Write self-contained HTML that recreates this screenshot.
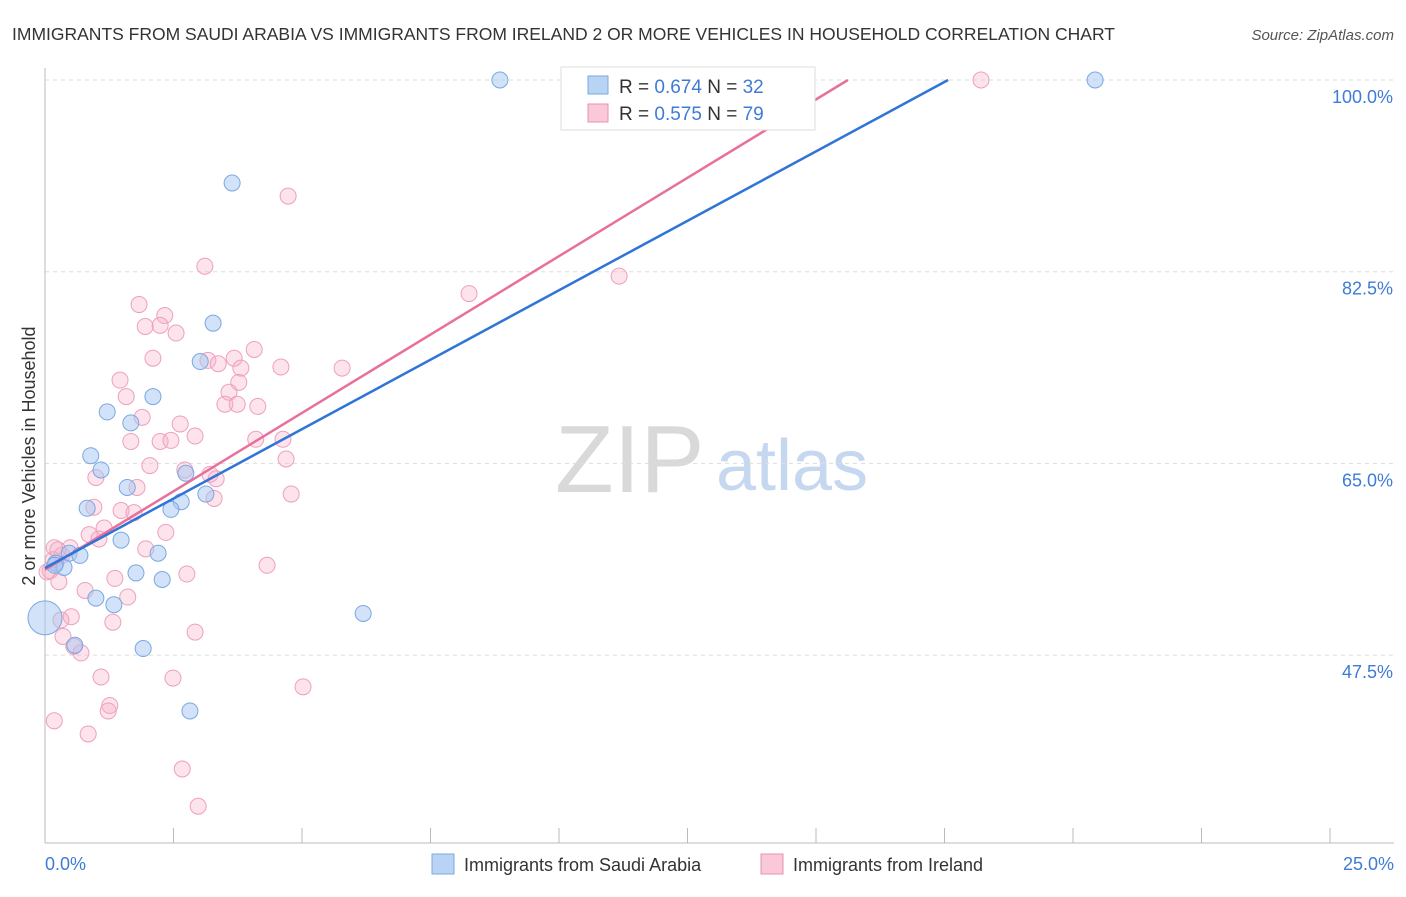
<!DOCTYPE html>
<html><head><meta charset="utf-8"><style>
body{margin:0;background:#fff;font-family:"Liberation Sans",sans-serif}
svg text{font-family:"Liberation Sans",sans-serif}
</style></head><body>
<svg id="chart" width="1406" height="892" viewBox="0 0 1406 892">
<text x="12" y="40" font-size="17.5" fill="#333">IMMIGRANTS FROM SAUDI ARABIA VS IMMIGRANTS FROM IRELAND 2 OR MORE VEHICLES IN HOUSEHOLD CORRELATION CHART</text>
<text x="1394" y="40" font-size="15" fill="#555" font-style="italic" text-anchor="end">Source: ZipAtlas.com</text>
<g>
<text x="555" y="492" font-size="96" fill="#d9d9d9" font-family="Liberation Serif,serif">ZIP</text>
<text x="716" y="490" font-size="72" fill="#c5d8f0">atlas</text>
</g>
<g id="grid"></g><g id="axes"></g><g id="marks"></g>
<text x="35" y="456" font-size="18" fill="#333" text-anchor="middle" transform="rotate(-90 35 456)">2 or more Vehicles in Household</text>
<text x="45" y="870" font-size="18" fill="#3f7bd6">0.0%</text>
<text x="1394" y="870" font-size="18" fill="#3f7bd6" text-anchor="end">25.0%</text>
<g>
<rect x="561" y="67" width="254" height="63" fill="#fff" stroke="#ddd"/>
<rect x="588" y="76" width="20" height="18" fill="#b9d3f5" stroke="#7aa8e0"/>
<text x="619" y="93" font-size="19" fill="#333">R = <tspan fill="#3f7bd6">0.674</tspan>   N = <tspan fill="#3f7bd6">32</tspan></text>
<rect x="588" y="104" width="20" height="18" fill="#f9c9d8" stroke="#ec8fb0"/>
<text x="619" y="120" font-size="19" fill="#333">R = <tspan fill="#3f7bd6">0.575</tspan>   N = <tspan fill="#3f7bd6">79</tspan></text>
</g>
<g>
<rect x="432" y="854" width="22" height="20" fill="#b9d3f5" stroke="#7aa8e0"/>
<text x="464" y="871" font-size="18" fill="#333">Immigrants from Saudi Arabia</text>
<rect x="761" y="854" width="22" height="20" fill="#f9c9d8" stroke="#ec8fb0"/>
<text x="793" y="871" font-size="18" fill="#333">Immigrants from Ireland</text>
</g>
</svg>
<script>
const yTicks=[100,82.5,65,47.5];
const xTicks=[0,2.5,5,7.5,10,12.5,15,17.5,20,22.5,25];
const saudiX=[8.85,20.43,3.64,3.27,3.02,2.10,1.21,1.67,0.89,1.09,2.74,1.60,3.13,2.65,0.82,2.45,1.48,0.47,0.68,2.20,0.21,0.37,1.77,2.28,0.99,1.34,6.19,0.58,1.91,2.82,0.19];
const saudiY=[100,100,90.6,77.8,74.3,71.1,69.7,68.7,65.7,64.4,64.1,62.8,62.2,61.5,60.9,60.8,58.0,56.8,56.6,56.8,55.9,55.5,55.0,54.4,52.7,52.1,51.3,48.4,48.1,42.4,55.7];
const saudiBig=[0,50.9];
const irelandX=[18.21,4.73,3.11,11.17,8.25,1.83,2.33,1.95,2.24,2.55,2.10,3.17,3.68,4.07,3.37,3.81,4.59,5.78,1.46,3.77,3.58,1.58,3.50,3.74,4.14,1.89,2.63,2.92,1.67,2.24,2.45,4.10,4.63,4.69,2.04,2.72,3.21,3.33,0.99,1.79,4.79,3.29,0.95,1.48,1.73,1.15,2.35,0.86,1.05,1.96,0.18,0.49,0.33,0.16,0.10,4.32,2.76,1.36,0.27,0.78,1.61,0.51,1.32,0.31,0.35,0.56,2.92,0.70,1.09,2.49,5.02,1.26,1.23,0.18,0.84,2.67,2.98,0.04,0.25];
const irelandY=[100,89.4,83.0,82.1,80.5,79.5,78.5,77.5,77.6,76.9,74.6,74.4,74.6,75.4,74.1,73.7,73.8,73.7,72.6,72.4,71.5,71.1,70.4,70.4,70.2,69.2,68.6,67.5,67.0,67.0,67.1,67.2,67.2,65.4,64.8,64.4,64.0,63.6,63.7,62.8,62.2,61.8,61.0,60.7,60.5,59.1,58.7,58.5,58.1,57.2,57.3,57.3,56.6,56.2,55.2,55.7,54.9,54.5,54.2,53.4,52.8,51.0,50.5,50.7,49.2,48.3,49.6,47.7,45.5,45.4,44.6,42.9,42.4,41.5,40.3,37.1,33.7,55.1,57.1];
const saudiTrend=[55.45,100];   // y at x=0, x where y=100
const irelandTrend=[55.3,100];
const saudiTrendEndX=17.57, irelandTrendEndX=15.62;
const sx=v=>45+v*51.4, sy=v=>80+(100-v)*10.954;
const NS='http://www.w3.org/2000/svg';
function mk(p,t,a){const e=document.createElementNS(NS,t);for(const k in a)e.setAttribute(k,a[k]);p.appendChild(e);return e;}
const grid=document.getElementById('grid'),axes=document.getElementById('axes'),marks=document.getElementById('marks');
yTicks.forEach(v=>{
 const l=mk(grid,'line',{x1:45,x2:1394,y1:sy(v),y2:sy(v),stroke:'#ddd','stroke-dasharray':'4 4'});
 
 
 const t=mk(grid,'text',{x:1393,y:sy(v)+23,'font-size':18,fill:'#3f7bd6','text-anchor':'end'});t.textContent=v.toFixed(1)+'%';
 
 
});
const ya=mk(axes,'line',{x1:45,x2:45,y1:68,y2:843,stroke:'#bbb'});


const xa=mk(axes,'line',{x1:45,x2:1394,y1:843,y2:843,stroke:'#bbb'});


xTicks.forEach(v=>{const t=mk(axes,'line',{x1:sx(v),x2:sx(v),y1:828,y2:843,stroke:'#bbb'});
 
 });
function pts(X,Y,fill,stroke,name){X.forEach((x,i)=>{const c=mk(marks,'circle',{cx:sx(x),cy:sy(Y[i]),r:8,fill:fill,stroke:stroke,'stroke-width':1});
 
 });}
pts(irelandX,irelandY,'rgba(246,175,200,0.35)','#eea0bd','point-ireland');
pts(saudiX,saudiY,'rgba(165,198,242,0.5)','#7aa8e0','point-saudi');
const big=mk(marks,'circle',{cx:sx(saudiBig[0]),cy:sy(saudiBig[1]),r:17,fill:'rgba(165,198,242,0.5)',stroke:'#7aa8e0'});


const lp=mk(marks,'line',{x1:sx(0),y1:sy(irelandTrend[0]),x2:sx(irelandTrendEndX),y2:sy(irelandTrend[1]),stroke:'#e8709a','stroke-width':2.5});


const lb=mk(marks,'line',{x1:sx(0),y1:sy(saudiTrend[0]),x2:sx(saudiTrendEndX),y2:sy(saudiTrend[1]),stroke:'#2f74d6','stroke-width':2.5});


</script>
</body></html>
